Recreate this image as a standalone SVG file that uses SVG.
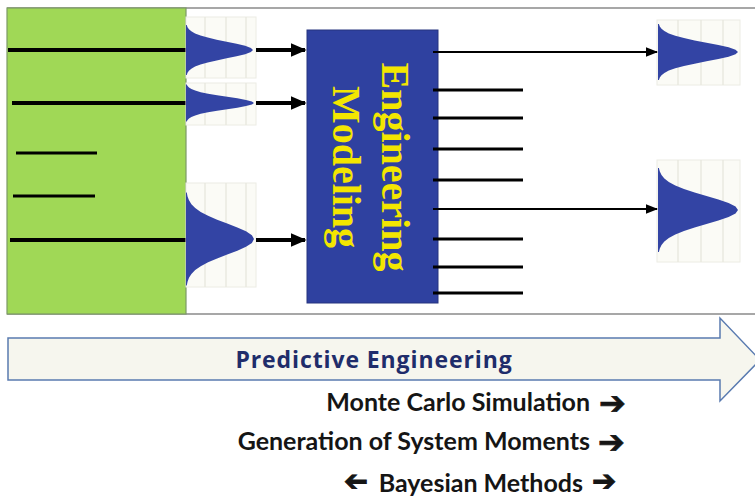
<svg xmlns="http://www.w3.org/2000/svg" xmlns:xlink="http://www.w3.org/1999/xlink" width="755" height="499" viewBox="0 0 755 499">
  <style>
    .lead { stroke:#000; stroke-width:4; }
    .short { stroke:#000; stroke-width:3; }
    .out { stroke:#000; stroke-width:3; }
    .thin { stroke:#000; stroke-width:2; }
    .dist { fill:#3344a4; }
    .grid rect { fill:#fbfbf6; stroke:#ecece4; stroke-width:1; }
    .grid line { stroke:#e6e6dc; stroke-width:1.2; }
    .label { font-family:"Liberation Serif", serif; font-weight:bold; font-size:40px; fill:#f3e600; text-anchor:middle; }
    .method { font-family:Lato, "Open Sans", sans-serif; font-weight:bold; font-size:25px; fill:#151515; text-anchor:end; }
    .arrowch { font-family:"DejaVu Sans", sans-serif; font-size:32px; fill:#151515; stroke:#151515; stroke-width:0.8; }
    .arrowsm { font-family:"DejaVu Sans", sans-serif; font-size:29px; fill:#151515; stroke:#151515; stroke-width:0.9; }
  </style>
  <defs>
    <path id="gauss" d="M0,-3 L0.0111,-3 L0.0228,-2.75 L0.0439,-2.5 L0.0796,-2.25 L0.1353,-2 L0.2163,-1.75 L0.3247,-1.5 L0.4578,-1.25 L0.6065,-1 L0.7548,-0.75 L0.8825,-0.5 L0.9692,-0.25 L1,0 L0.9692,0.25 L0.8825,0.5 L0.7548,0.75 L0.6065,1 L0.4578,1.25 L0.3247,1.5 L0.2163,1.75 L0.1353,2 L0.0796,2.25 L0.0439,2.5 L0.0228,2.75 L0.0111,3 L0,3 Z"/>
    <marker id="headBig" markerWidth="4" markerHeight="4" refX="3.6" refY="2" orient="auto" markerUnits="strokeWidth">
      <path d="M0,0.3 L4,2 L0,3.7 Z" fill="#000"/>
    </marker>
    <marker id="headSmall" markerWidth="6" markerHeight="6" refX="5.5" refY="3" orient="auto" markerUnits="strokeWidth">
      <path d="M0,0.6 L6,3 L0,5.4 Z" fill="#000"/>
    </marker>
  </defs>

  <!-- frame -->
  <line x1="7" y1="8" x2="755" y2="8" stroke="#8a8a8a" stroke-width="1.5"/>
  <line x1="7" y1="314" x2="755" y2="314" stroke="#8a8a8a" stroke-width="1.5"/>

  <!-- input domain -->
  <g id="inputs">
    <rect x="7" y="8" width="179" height="306" fill="#a0d856" stroke="#7c9a66" stroke-width="1.2"/>
    <line class="lead" x1="8" y1="50" x2="186" y2="50"/>
    <line class="lead" x1="12" y1="103" x2="186" y2="103"/>
    <line class="short" x1="16" y1="153" x2="97" y2="153"/>
    <line class="short" x1="13" y1="196" x2="95" y2="196"/>
    <line class="lead" x1="10" y1="240" x2="186" y2="240"/>
  </g>

  <!-- input distributions -->
  <g id="input-dists">
    <g class="grid">
      <rect x="186" y="17" width="70" height="61"/>
      <line x1="205" y1="17" x2="205" y2="78"/><line x1="226" y1="17" x2="226" y2="78"/><line x1="246" y1="17" x2="246" y2="78"/>
      <rect x="186" y="83" width="70" height="42"/>
      <line x1="205" y1="83" x2="205" y2="125"/><line x1="226" y1="83" x2="226" y2="125"/><line x1="246" y1="83" x2="246" y2="125"/>
      <rect x="186" y="183" width="70" height="104"/>
      <line x1="205" y1="183" x2="205" y2="287"/><line x1="226" y1="183" x2="226" y2="287"/><line x1="246" y1="183" x2="246" y2="287"/>
    </g>
    <use xlink:href="#gauss" class="dist" transform="translate(186,50) scale(67,8.3)"/>
    <use xlink:href="#gauss" class="dist" transform="translate(186,103) scale(68,6.2)"/>
    <use xlink:href="#gauss" class="dist" transform="translate(186,239) scale(68,15.5)"/>
  </g>

  <!-- model -->
  <g id="model">
    <rect x="307" y="30" width="131" height="273" fill="#2f41a0" stroke="#26347f" stroke-width="1"/>
    <text class="label" transform="translate(382,167) rotate(90)">Engineering</text>
    <text class="label" transform="translate(333,167) rotate(90)">Modeling</text>
  </g>

  <!-- output distributions -->
  <g id="output-dists">
    <g class="grid">
      <rect x="657" y="20" width="83" height="65"/>
      <line x1="678" y1="20" x2="678" y2="85"/><line x1="701" y1="20" x2="701" y2="85"/><line x1="723" y1="20" x2="723" y2="85"/>
      <rect x="657" y="160" width="83" height="102"/>
      <line x1="678" y1="160" x2="678" y2="262"/><line x1="701" y1="160" x2="701" y2="262"/><line x1="723" y1="160" x2="723" y2="262"/>
    </g>
    <use xlink:href="#gauss" class="dist" transform="translate(658,52) scale(80,9.3)"/>
    <use xlink:href="#gauss" class="dist" transform="translate(658,210) scale(80,14)"/>
  </g>

  <!-- connectors -->
  <g id="connectors">
    <line class="lead" x1="256" y1="50" x2="305" y2="50" marker-end="url(#headBig)"/>
    <line class="lead" x1="256" y1="103" x2="305" y2="103" marker-end="url(#headBig)"/>
    <line class="lead" x1="256" y1="240" x2="305" y2="240" marker-end="url(#headBig)"/>
    <line class="thin" x1="433" y1="52" x2="657" y2="52" marker-end="url(#headSmall)"/>
    <line class="thin" x1="433" y1="209" x2="657" y2="209" marker-end="url(#headSmall)"/>
    <line class="out" x1="433" y1="90" x2="523" y2="90"/>
    <line class="out" x1="433" y1="118" x2="523" y2="118"/>
    <line class="out" x1="433" y1="149" x2="523" y2="149"/>
    <line class="out" x1="433" y1="180" x2="523" y2="180"/>
    <line class="out" x1="433" y1="239" x2="523" y2="239"/>
    <line class="out" x1="433" y1="267" x2="523" y2="267"/>
    <line class="out" x1="433" y1="293" x2="523" y2="293"/>
  </g>

  <!-- predictive engineering arrow -->
  <g id="predictive">
    <path d="M8,338 L720,338 L720,318 L760,360 L720,401 L720,380 L8,380 Z" fill="#f6f6ee" stroke="#5a7bb0" stroke-width="1.5"/>
    <text x="374" y="368" font-family="'Open Sans', Lato, sans-serif" font-weight="bold" font-size="23" letter-spacing="0.9" fill="#1f2d6b" text-anchor="middle">Predictive Engineering</text>
  </g>

  <g id="methods">
    <text class="method" x="590" y="411">Monte Carlo Simulation</text>
    <text class="arrowch" x="599" y="414">➔</text>
    <text class="method" x="590" y="450">Generation of System Moments</text>
    <text class="arrowch" x="598" y="453">➔</text>
    <text class="arrowsm" transform="translate(368,491) scale(-1,1)">➔</text>
    <text class="method" x="583" y="492">Bayesian Methods</text>
    <text class="arrowsm" x="592" y="491">➔</text>
  </g>
</svg>
